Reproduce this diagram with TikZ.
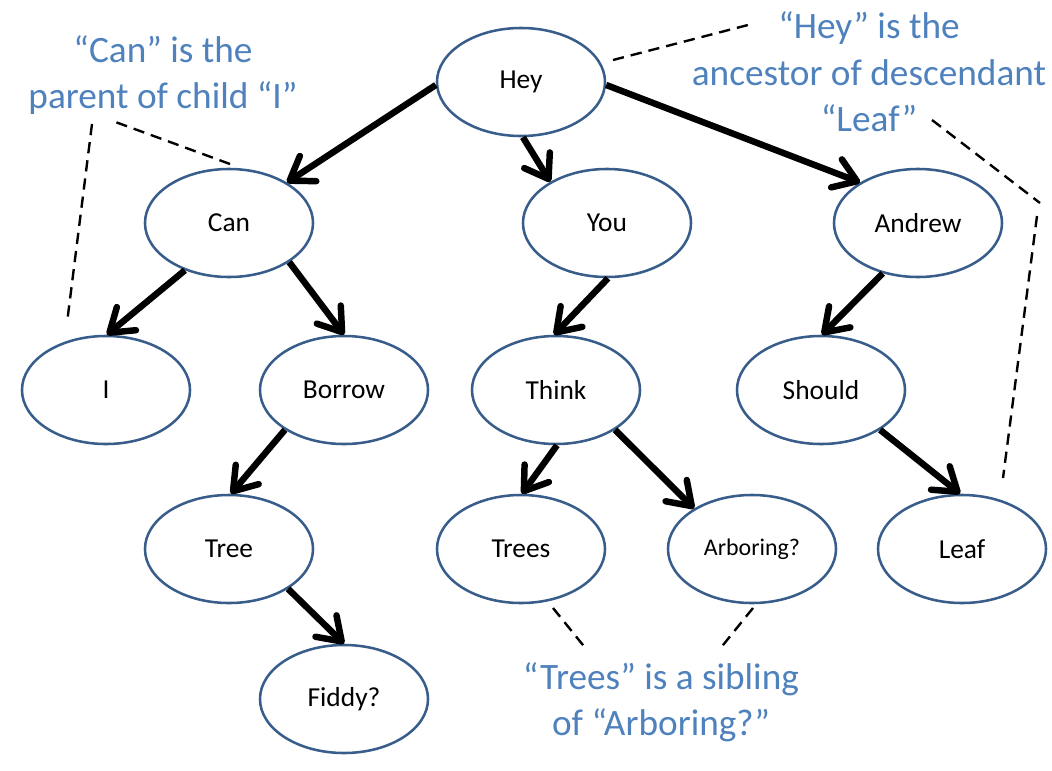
\documentclass[tikz,border=0pt]{standalone}
\usepackage{fontspec}
\setmainfont{Carlito}
\usetikzlibrary{arrows.meta,shapes.geometric}
\definecolor{wordline}{HTML}{385D8A}
\definecolor{notetext}{HTML}{4F81BD}
\tikzset{
  word/.style={ellipse, draw=wordline, line width=1.8pt, fill=white,
    minimum width=4.2cm, minimum height=2.7cm, inner sep=0pt,
    font=\fontsize{19.5}{23}\selectfont},
  link/.style={line width=4.6pt, -{Straight Barb[length=5.5mm,width=7.5mm,round]}},
  note/.style={text=notetext, align=center, font=\fontsize{26.5}{33}\selectfont},
  callout/.style={line width=1.7pt, dash pattern=on 8pt off 5pt},
}
\begin{document}
\begin{tikzpicture}[x=0.025cm,y=-0.025cm]
			%%%%% START %%%%%
			\useasboundingbox (0,0) rectangle (1052,770);
			
			% the words
			\node[word] (hey) at (521,82) {Hey};
			
			\node[word] (can) at (229,223) {Can};
			\node[word] (you) at (607,223) {You};
			\node[word] (andrew) at (918,223) {Andrew};
			
			\node[word] (i) at (106,390) {I};
			\node[word] (borrow) at (344,390) {Borrow};
			\node[word] (think) at (556,390) {Think};
			\node[word] (should) at (821,390) {Should};
			
			\node[word] (tree) at (229,549) {Tree};
			\node[word] (trees) at (521,549) {Trees};
			\node[word, font=\fontsize{17}{20}\selectfont] (arboring) at (752,549) {Arboring?};
			\node[word] (leaf) at (962,549) {Leaf};
			
			\node[word] (fiddy) at (344,699) {Fiddy?};
			
			% parent to child
			\draw[link] (hey.182) -- (can.35);
			\draw[link] (hey.272) -- (you.144);
			\draw[link] (hey.358) -- (andrew.145);
			\draw[link] (can.227) -- (i.89);
			\draw[link] (can.327) -- (borrow.90);
			\draw[link] (you.271) -- (think.92);
			\draw[link] (andrew.235) -- (should.89);
			\draw[link] (borrow.214) -- (tree.88);
			\draw[link] (think.271) -- (trees.89);
			\draw[link] (think.326) -- (arboring.145);
			\draw[link] (should.326) -- (leaf.92);
			\draw[link] (tree.326) -- (fiddy.90);
			
			% the notes
			\node[note] (parentnote) at (163,75) {``Can'' is the\\parent of child ``I''};
			\node[note] (ancestornote) at (869,72) {``Hey'' is the\\ancestor of descendant\\``Leaf''};
			\node[note] (siblingnote) at (661,702) {``Trees'' is a sibling\\of ``Arboring?''};
			
			\coordinate (p1) at (230,164);
			\coordinate (p2) at (110,120);
			\coordinate (p3) at (92,124);
			\coordinate (p4) at (67,323);
			\draw[callout] (p1) -- (p2);
			\draw[callout] (p3) -- (p4);
			
			\coordinate (a1) at (613,60);
			\coordinate (a2) at (748,25);
			\coordinate (a3) at (932,120);
			\coordinate (a4) at (1040,203);
			\coordinate (a5) at (1037,216);
			\coordinate (a6) at (1003,478);
			\draw[callout] (a1) -- (a2);
			\draw[callout] (a3) -- (a4);
			\draw[callout] (a5) -- (a6);
			
			\coordinate (s1) at (553,608);
			\coordinate (s2) at (587,650);
			\coordinate (s3) at (753,608);
			\coordinate (s4) at (719,650);
			\draw[callout] (s1) -- (s2);
			\draw[callout] (s3) -- (s4);
			%%%%% END %%%%%
\end{tikzpicture}
\end{document}
